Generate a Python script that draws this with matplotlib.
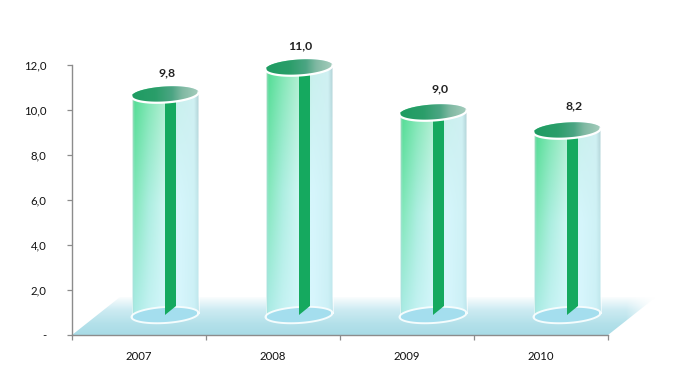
import numpy as np
import matplotlib
matplotlib.use("Agg")
import matplotlib.pyplot as plt
from matplotlib.patches import Polygon

categories = ["2007", "2008", "2009", "2010"]
values = [9.8, 11.0, 9.0, 8.2]
value_labels = ["9,8", "11,0", "9,0", "8,2"]
y_ticks = [0, 2, 4, 6, 8, 10, 12]
y_tick_labels = ["-", "2,0", "4,0", "6,0", "8,0", "10,0", "12,0"]

plt.rcParams["font.family"] = ["Lato", "DejaVu Sans"]
W, H = 687, 388
fig = plt.figure(figsize=(W / 100, H / 100), dpi=100, facecolor="white")
ax = fig.add_axes([72 / W, (H - 335) / H, 536 / W, 270 / H])
ax.set_xlim(0, 4)
ax.set_ylim(0, 12)
ux, uy = 4 / 536, 12 / 270  # data units per pixel
ax.patch.set_visible(False)


def grad_image(rgba, x0, x1, y0, y1, clip, z):
    im = ax.imshow(rgba, extent=[x0, x1, y0, y1], origin="upper", aspect="auto",
                   interpolation="bilinear", zorder=z)
    clip.set_transform(ax.transData)
    im.set_clip_path(clip)
    im.set_clip_box(fig.bbox)
    return im


def lerp_stops(t, stops):
    pos = [s[0] for s in stops]
    return np.stack([np.interp(t, pos, [s[1][i] for s in stops]) for i in range(len(stops[0][1]))], -1)


def c(h, al=1.0):
    r, g, b_ = matplotlib.colors.to_rgb(h)
    return (r, g, b_, al)


# floor plane
fl = Polygon([(0, 0), (4, 0), (4 + 48 * ux, 38 * uy), (48 * ux, 38 * uy)], closed=True, fc="none", ec="none")
ys = np.linspace(0, 1, 80)
xs = np.linspace(0, 1, 300)
col = lerp_stops(ys, [(0, c("#ffffff")), (0.08, c("#f2fafc")), (0.35, c("#cdebf2")), (0.7, c("#b4e1ea")), (1, c("#a8dbe6"))])
fimg = np.repeat(col[:, None, :], 300, axis=1)
fimg[:, :, 3] = np.clip((1 - xs) / 0.05, 0, 1)
grad_image(fimg, 0, 4 + 48 * ux, 0, 38 * uy, fl, 1)

a, b, k = 33.5, 8.0, 2.0
depth = 20 * uy
off = 26 * ux


def ell(cx, cy, t):
    return cx + a * ux * np.cos(t), cy + (b * np.sin(t) + k * np.cos(t)) * uy


for i, v in enumerate(values):
    cx = i + 0.5 + off
    y0, y1 = depth, depth + v
    tt = np.linspace(0, 2 * np.pi, 100)
    tb = np.linspace(np.pi, 2 * np.pi, 50)
    tu = np.linspace(0, np.pi, 50)
    # body
    bx, by = ell(cx, y0, tb)
    tx_, ty_ = ell(cx, y1, tu)
    body = Polygon(np.column_stack([np.r_[bx, tx_], np.r_[by, ty_]]), closed=True, fc="none", ec="none")
    h_t = np.linspace(0, 1, 100)
    v_t = np.linspace(0, 1, 100)
    top_row = lerp_stops(h_t, [(0, c("#a8d8c0")), (0.04, c("#50dc92")), (0.25, c("#7de6b0")),
                               (0.5, c("#aeeece")), (0.7, c("#c8f0ec")), (0.93, c("#d0f0f2")), (1, c("#b0d0d4"))])
    mid_row = lerp_stops(h_t, [(0, c("#a8e0d4")), (0.04, c("#84e8bc")), (0.25, c("#aceee0")),
                               (0.5, c("#d0f6f4")), (0.7, c("#d6f6fc")), (0.93, c("#cff2f6")), (1, c("#bfe4e8"))])
    bot_row = lerp_stops(h_t, [(0, c("#a8e0e0")), (0.04, c("#b0ecea")), (0.25, c("#c6f2f4")),
                               (0.5, c("#d4f6fc")), (0.7, c("#d8f6fd")), (0.93, c("#ccf0f6")), (1, c("#bfe8ee"))])
    img = np.zeros((100, 100, 4))
    for r, vv in enumerate(v_t):
        if vv < 0.5:
            img[r] = top_row + (mid_row - top_row) * (vv / 0.5)
        else:
            img[r] = mid_row + (bot_row - mid_row) * ((vv - 0.5) / 0.5)
    grad_image(img, cx - a * ux, cx + a * ux, y0 - (b + 3) * uy, y1 + (b + 3) * uy, body, 3)
    # bottom ellipse seen through
    lx, ly = ell(cx, y0, tt)
    ax.fill(lx, ly, fc="#a4deee", ec="none", zorder=4, clip_on=False)
    ax.plot(lx, ly, color="#f4fcfd", lw=1.4, zorder=4.5, clip_on=False)
    # green strip
    ax.fill([cx, cx + 11 * ux, cx + 11 * ux, cx],
            [y0, y0 + 9 * uy, y1, y1], fc="#15a95f", ec="none", zorder=5, clip_on=False)
    # side highlights
    for sgn in (-1, 1):
        ax.plot([cx + sgn * a * ux] * 2, [y0 + sgn * k * uy, y1 + sgn * k * uy], color="white",
                lw=0.7, alpha=0.6, zorder=6, clip_on=False)
    # top ellipse
    tx, ty = ell(cx, y1, tt)
    top = Polygon(np.column_stack([tx, ty]), closed=True, fc="none", ec="none")
    trow = lerp_stops(h_t, [(0, c("#1f9c62")), (0.35, c("#2a9e6a")), (0.6, c("#4ca583")),
                            (0.75, c("#7fb8a2")), (1, c("#a6cdbd"))])
    grad_image(np.repeat(trow[None, :, :], 4, axis=0), cx - a * ux, cx + a * ux,
               y1 - (b + 3) * uy, y1 + (b + 3) * uy, top, 7)
    lowx, lowy = ell(cx, y1, tb)
    ax.plot(lowx, lowy, color="white", lw=1.6, zorder=8, clip_on=False)

# value labels
label_dx = [2, 1, 7, 7]
label_dy = [22, 22, 24, 25]
for i, (v, lab) in enumerate(zip(values, value_labels)):
    ax.annotate(lab, (i + 0.5 + off, depth + v), xytext=(label_dx[i] * 0.72, label_dy[i] * 0.72),
                textcoords="offset points", ha="center", va="center", fontsize=8.8,
                fontweight="bold", color="#222222", zorder=10, annotation_clip=False)

for sp in ("top", "right"):
    ax.spines[sp].set_visible(False)
for sp in ("left", "bottom"):
    ax.spines[sp].set_color("#8c8c8c")
    ax.spines[sp].set_linewidth(1.0)
    ax.spines[sp].set_zorder(11)

ax.set_yticks(y_ticks)
ax.set_yticklabels(y_tick_labels, fontsize=8.2, color="#111111")
ax.tick_params(axis="y", length=3.6, width=0.9, color="#8c8c8c", pad=15)
ax.set_xticks(range(5))
ax.set_xticklabels([])
ax.tick_params(axis="x", length=3.6, width=0.9, color="#8c8c8c")
for i, lab in enumerate(categories):
    ax.annotate(lab, (i + 0.5, 0), xytext=(0, -22 * 0.72), textcoords="offset points",
                ha="center", va="center", fontsize=8.2, color="#111111", annotation_clip=False)

ax.set_xlim(0, 4)
ax.set_ylim(0, 12)
fig.savefig("out.png", dpi=100, facecolor="white")
